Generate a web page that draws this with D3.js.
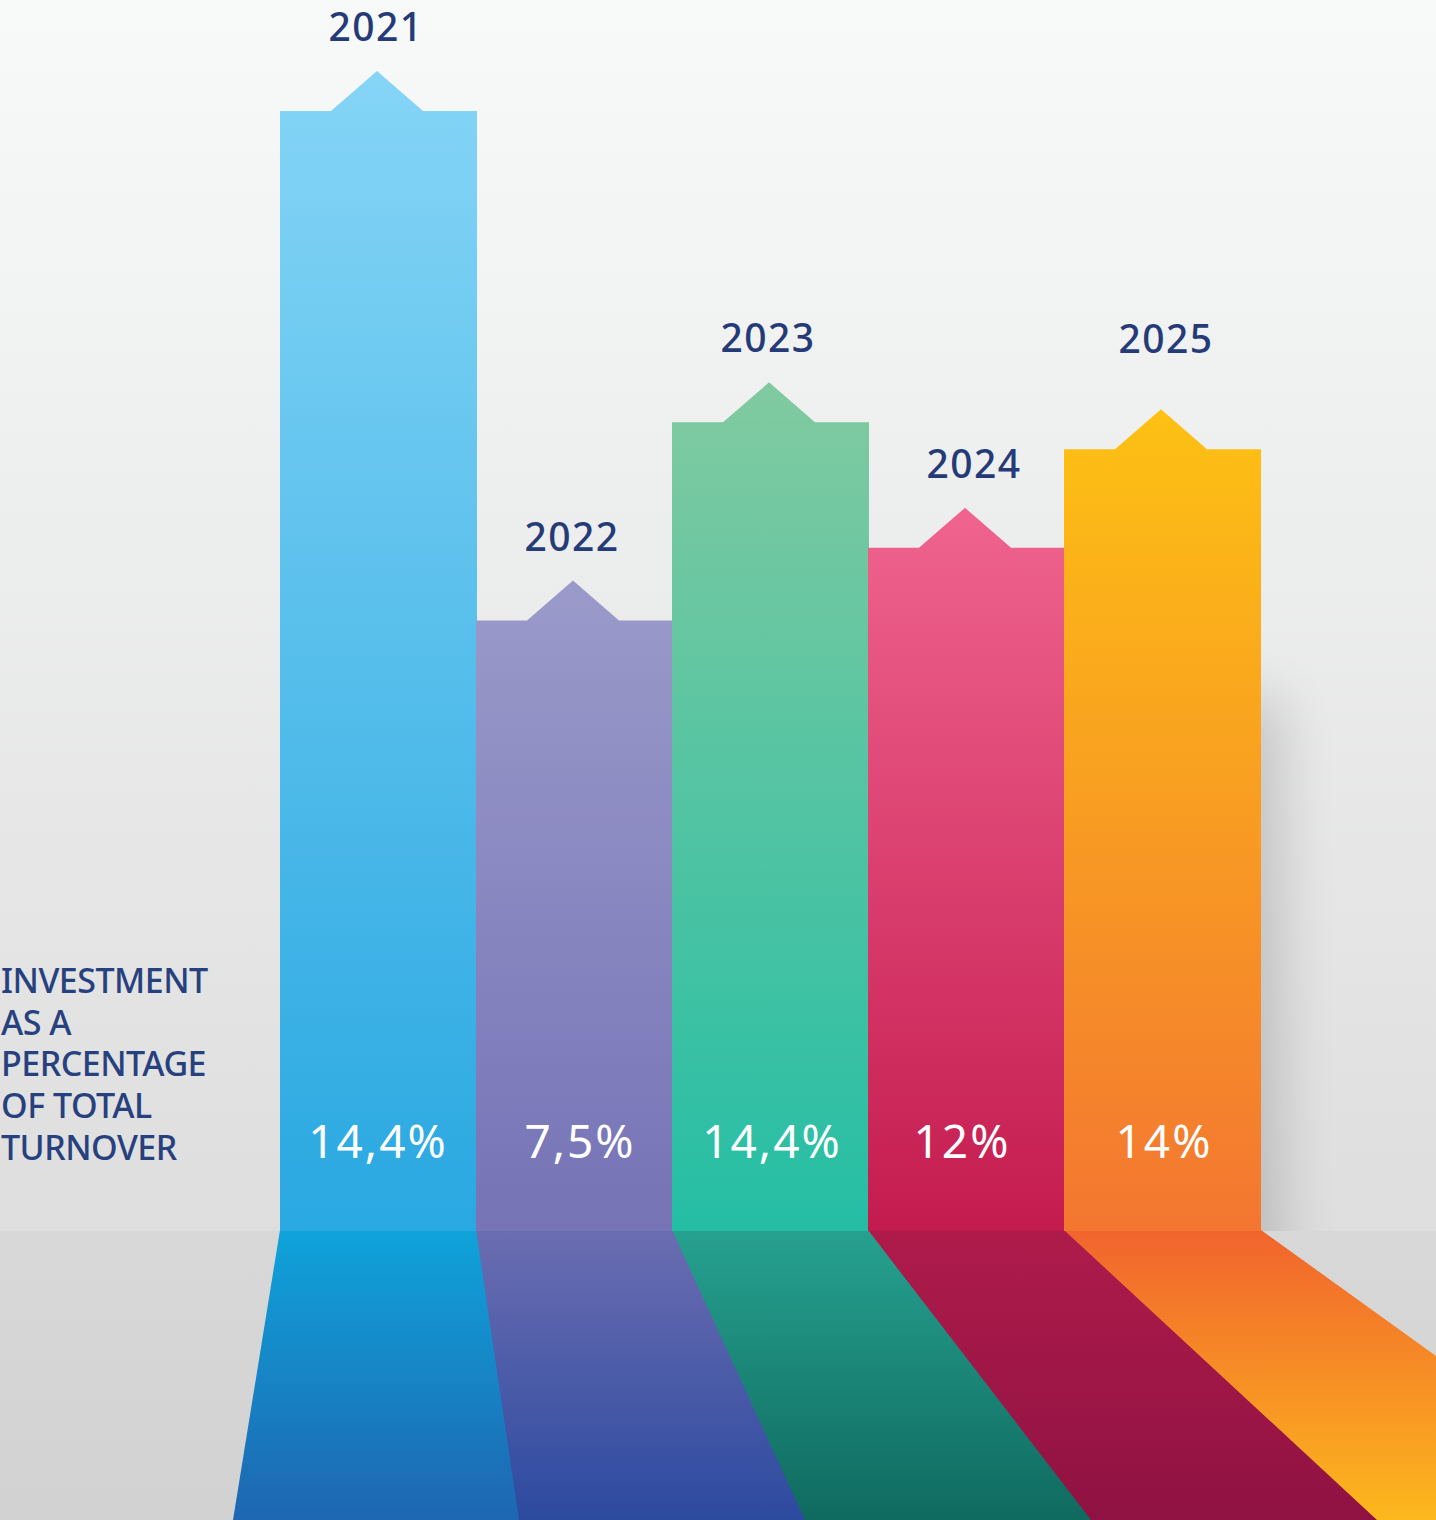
<!DOCTYPE html>
<html>
<head>
<meta charset="utf-8">
<script src="https://cdn.jsdelivr.net/npm/d3@7"></script>
<style>
  html, body { margin: 0; padding: 0; background: #f2f3f3; }
  svg { display: block; }
</style>
</head>
<body>
<svg id="chart" width="1436" height="1520"></svg>
<script>
// values shown on the bars
const years = ["2021", "2022", "2023", "2024", "2025"];
const valueLabels = ["14,4%", "7,5%", "14,4%", "12%", "14%"];
// drawn bar heights (tallest = 100)
const barLevels = [100, 54.5, 72.2, 61, 69.8];
const titleLines = ["INVESTMENT", "AS A", "PERCENTAGE", "OF TOTAL", "TURNOVER"];

const barColors = [
  ["#85d5f6", "#29a8e1"],
  ["#9a9aca", "#7673b6"],
  ["#81caa0", "#24bea5"],
  ["#f0648f", "#c41b4f"],
  ["#fdc113", "#f37631"]
];
const floorColors = [
  ["#0fa3da", "#1e66b1"],
  ["#6b6db1", "#2c4a9f"],
  ["#26a190", "#0f6a5f"],
  ["#ae1b4b", "#8f1242"],
  ["#f1642d", "#fcb81d"]
];

const W = 1436, H = 1520;
const base = 1231;
const svg = d3.select("#chart");
const defs = svg.append("defs");

const x = d3.scaleBand().domain(years).range([280, 1260]).padding(0);
const xFloor = d3.scaleBand().domain(years).range([233, 1663]).padding(0);
const y = d3.scaleLinear().domain([0, 100]).range([base, 111]);

function vGrad(id, c0, c1, y0, y1) {
  const g = defs.append("linearGradient").attr("id", id)
    .attr("gradientUnits", "userSpaceOnUse")
    .attr("x1", 0).attr("x2", 0).attr("y1", y0).attr("y2", y1);
  g.append("stop").attr("offset", 0).attr("stop-color", c0);
  g.append("stop").attr("offset", 1).attr("stop-color", c1);
}

vGrad("bg", "#f8f9f9", "#dedede", 0, base);
vGrad("floor", "#d8d8d8", "#d2d2d2", base, H);
years.forEach((yr, i) => {
  vGrad("bar" + i, barColors[i][0], barColors[i][1], y(barLevels[i]) - 40, base);
  vGrad("fl" + i, floorColors[i][0], floorColors[i][1], base, H);
});

defs.append("filter").attr("id", "blur")
  .attr("x", -1).attr("y", -1).attr("width", 3).attr("height", 3)
  .append("feGaussianBlur").attr("stdDeviation", 28);

svg.append("rect").attr("width", W).attr("height", base).attr("fill", "url(#bg)");

// soft shadow to the right of the last bar
svg.append("rect")
  .attr("x", x("2025") + x.bandwidth() - 60).attr("y", 700)
  .attr("width", 80).attr("height", base - 640)
  .attr("fill", "#000").attr("opacity", 0.16)
  .attr("filter", "url(#blur)");

svg.append("rect").attr("y", base).attr("width", W).attr("height", H - base).attr("fill", "url(#floor)");

// floor reflections
svg.selectAll("path.floor")
  .data(years)
  .join("path")
    .attr("class", "floor")
    .attr("fill", (d, i) => `url(#fl${i})`)
    .attr("d", d => {
      const a0 = x(d), a1 = x(d) + x.bandwidth() + 1;
      const b0 = xFloor(d), b1 = xFloor(d) + xFloor.bandwidth() + 1;
      return `M${a0},${base - 1}L${a1},${base - 1}L${b1},${H}L${b0},${H}Z`;
    });

// bars with arrow tips
const tipHalf = 46, tipH = 40;
svg.selectAll("path.bar")
  .data(years)
  .join("path")
    .attr("class", "bar")
    .attr("fill", (d, i) => `url(#bar${i})`)
    .attr("d", (d, i) => {
      const x0 = x(d), x1 = x(d) + x.bandwidth() + 1;
      const cx = x(d) + x.bandwidth() / 2 - 1;
      const ys = y(barLevels[i]);
      return `M${x0},${base}L${x0},${ys}L${cx - tipHalf},${ys}L${cx},${ys - tipH}` +
        `L${cx + tipHalf},${ys}L${x1},${ys}L${x1},${base}Z`;
    });

// year labels
svg.selectAll("text.year")
  .data(years)
  .join("text")
    .attr("class", "year")
    .attr("x", d => x(d) + x.bandwidth() / 2 + (d === "2024" ? 8 : d === "2025" ? 4 : -2))
    .attr("y", (d, i) => y(barLevels[i]) - (d === "2025" ? 96 : 70))
    .attr("text-anchor", "middle")
    .attr("fill", "#243b78")
    .attr("font-family", "'Noto Sans', sans-serif")
    .attr("font-weight", 500)
    .attr("font-size", 39)
    .attr("letter-spacing", 1.5)
    .text(d => d);

// value labels
svg.selectAll("text.value")
  .data(years)
  .join("text")
    .attr("class", "value")
    .attr("x", (d, i) => x(d) + x.bandwidth() / 2 + [0, 6, 2, -4, 2][i])
    .attr("y", 1158)
    .attr("text-anchor", "middle")
    .attr("fill", "#fff")
    .attr("font-family", "'Noto Sans', sans-serif")
    .attr("font-size", 46)
    .attr("letter-spacing", 2)
    .text((d, i) => valueLabels[i]);

// left title
svg.append("text")
  .attr("fill", "#27407e")
  .attr("font-family", "'Noto Sans', sans-serif")
  .attr("font-weight", 500)
  .attr("font-size", 34)
  .attr("letter-spacing", -0.5)
  .selectAll("tspan")
  .data(titleLines)
  .join("tspan")
    .attr("x", 1)
    .attr("y", (d, i) => 993 + i * 41.7)
    .text(d => d);
</script>
</body>
</html>
